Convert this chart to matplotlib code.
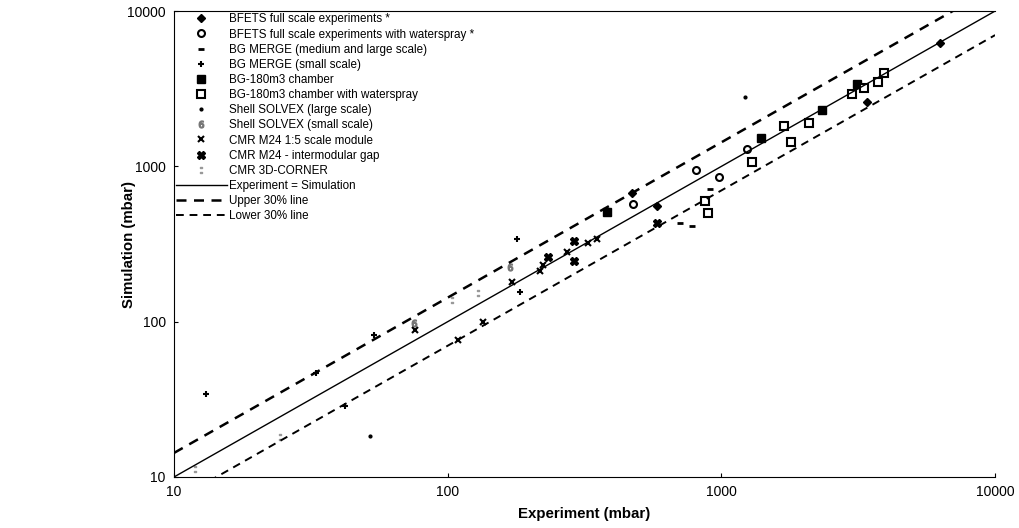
import numpy as np
import matplotlib
matplotlib.use("Agg")
import matplotlib.pyplot as plt

plt.rcParams['font.family'] = ['Liberation Sans', 'DejaVu Sans']

# data (experiment, simulation) in mbar
bfets_x = [6300, 3400, 580, 470]
bfets_y = [6200, 2600, 556, 674]

bfets_ws_x = [1240, 980, 808, 475]
bfets_ws_y = [1290, 855, 948, 573]

merge_med_x = [909, 706, 781]
merge_med_y = [715, 432, 413]

merge_small_x = [13.1, 179, 184, 54, 42, 33]
merge_small_y = [34, 341, 155, 82, 28.7, 47]

chamber_x = [3130, 2330, 1400, 382]
chamber_y = [3390, 2310, 1520, 505]

chamber_ws_x = [3930, 3730, 3320, 3000, 2090, 1690, 1800, 1290, 871, 893]
chamber_ws_y = [3990, 3490, 3200, 2930, 1900, 1820, 1440, 1067, 599, 501]

solvex_large_x = [1220, 52]
solvex_large_y = [2800, 18.4]

solvex_small_x = [75, 169]
solvex_small_y = [98, 225]

cmr15_x = [351, 326, 273, 223, 217, 172, 135, 76, 109]
cmr15_y = [341, 321, 281, 232, 212, 180, 99.5, 88.5, 76]

cmr_gap_x = [289, 289, 582, 232]
cmr_gap_y = [331, 246, 432, 261]

cmr3d_x = [129, 24.4, 11.9, 104]
cmr3d_y = [153, 18.1, 11.3, 138]

ratio = 0.7  # +/- 30% band

fig = plt.figure(figsize=(10.2, 5.28), dpi=100)
ax = fig.add_axes([0.1706, 0.0966, 0.805, 0.8825])
ax.set_xscale('log')
ax.set_yscale('log')
ax.set_xlim(10, 10000)
ax.set_ylim(10, 10000)

ax.plot(bfets_x, bfets_y, marker='D', color='black', ms=4, ls='none',
        label='BFETS full scale experiments *')
ax.plot(bfets_ws_x, bfets_ws_y, marker='o', mfc='white', mec='black', mew=1.5, ms=5, ls='none',
        label='BFETS full scale experiments with waterspray *')
ax.plot(merge_med_x, merge_med_y, marker='_', color='black', mew=2, ms=4, ls='none',
        label='BG MERGE (medium and large scale)')
ax.plot(merge_small_x, merge_small_y, marker='+', color='black', mew=1.5, ms=5, ls='none',
        label='BG MERGE (small scale)')
ax.plot(chamber_x, chamber_y, marker='s', color='black', ms=6, ls='none',
        label='BG-180m3 chamber')
ax.plot(chamber_ws_x, chamber_ws_y, marker='s', mfc='white', mec='black', mew=1.5, ms=6, ls='none',
        label='BG-180m3 chamber with waterspray')
ax.plot(solvex_large_x, solvex_large_y, marker='.', color='black', ms=4, ls='none',
        label='Shell SOLVEX (large scale)')
ax.plot(solvex_small_x, solvex_small_y, marker='$6$', color='#777777', ms=5, ls='none',
        label='Shell SOLVEX (small scale)')
ax.plot(cmr15_x, cmr15_y, marker='x', color='black', mew=1.5, ms=5, ls='none',
        label='CMR M24 1:5 scale module')
ax.plot(cmr_gap_x, cmr_gap_y, marker='X', color='black', ms=6, ls='none',
        label='CMR M24 - intermodular gap')
ax.plot(cmr3d_x, cmr3d_y, marker='$:$', color='#999999', ms=5, ls='none',
        label='CMR 3D-CORNER')

# reference lines
xs = np.array([10, 10000])
ax.plot(xs, xs, '-', color='black', lw=1, label='Experiment = Simulation')
ax.plot(xs, xs / ratio, '--', color='black', lw=1.8, dashes=(4, 3),
        label='Upper 30% line')
ax.plot(xs, xs * ratio, '--', color='black', lw=1.4, dashes=(4, 3),
        label='Lower 30% line')

ticks = [10, 100, 1000, 10000]
ax.set_xticks(ticks)
ax.set_xticklabels([str(t) for t in ticks])
ax.set_yticks(ticks)
ax.set_yticklabels([str(t) for t in ticks])
ax.minorticks_off()
ax.tick_params(direction='in', length=3, labelsize=10, pad=6)

ax.spines['right'].set_visible(False)
for s in ['top', 'left', 'bottom']:
    ax.spines[s].set_linewidth(0.8)

ax.set_xlabel('Experiment (mbar)', fontsize=10.8, fontweight='bold')
ax.set_ylabel('Simulation (mbar)', fontsize=10.8, fontweight='bold')
ax.xaxis.set_label_coords(0.5, -0.064)
ax.yaxis.set_label_coords(-0.046, 0.5)

ax.legend(loc='upper left', frameon=False, fontsize=8.4, handlelength=4.3,
          handletextpad=0.2, labelspacing=0.27, borderpad=0.2, borderaxespad=0.0)

fig.savefig('out.png', dpi=100)
